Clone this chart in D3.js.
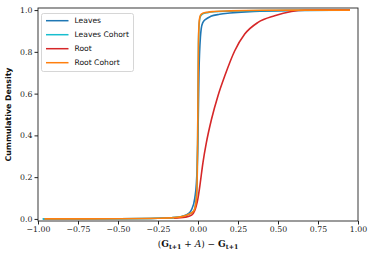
<!DOCTYPE html>
<html>
<head>
<meta charset="utf-8">
<script src="https://cdn.jsdelivr.net/npm/d3@7"></script>
<style>
  body { margin: 0; background: #fff; }
</style>
</head>
<body>
<div id="chart"></div>
<script>
// Datos
const seriesNames = ["Leaves", "Leaves Cohort", "Root", "Root Cohort"];
const seriesColors = ["#1f77b4", "#17becf", "#d62728", "#ff7f0e"];

const leavesX = [-0.97, -0.5, -0.25, -0.15, -0.1, -0.06, -0.04, -0.02, -0.01, -0.005, 0, 0.003, 0.006, 0.01, 0.015, 0.02, 0.03, 0.05, 0.08, 0.135, 0.2, 0.35, 0.6, 0.95];
const leavesY = [0, 0.001, 0.003, 0.006, 0.012, 0.025, 0.045, 0.1, 0.17, 0.25, 0.4, 0.55, 0.7, 0.8, 0.87, 0.91, 0.94, 0.957, 0.97, 0.98, 0.986, 0.994, 0.998, 1.0];

const leavesCohortX = [-0.97, -0.5, -0.25, -0.15, -0.1, -0.05, -0.03, -0.02, -0.01, -0.005, -0.002, 0, 0.003, 0.008, 0.015, 0.03, 0.06, 0.1, 0.2, 0.4, 0.95];
const leavesCohortY = [0, 0.001, 0.003, 0.006, 0.011, 0.025, 0.035, 0.05, 0.1, 0.2, 0.4, 0.6, 0.84, 0.94, 0.97, 0.982, 0.988, 0.992, 0.995, 0.998, 1.0];

const rootX = [-0.15, -0.08, -0.04, -0.02, -0.01, 0, 0.011, 0.031, 0.052, 0.084, 0.125, 0.167, 0.229, 0.292, 0.375, 0.479, 0.584, 0.667, 0.8, 0.95];
const rootY = [0.003, 0.008, 0.018, 0.04, 0.065, 0.1, 0.155, 0.27, 0.364, 0.476, 0.59, 0.684, 0.804, 0.885, 0.941, 0.973, 0.993, 0.999, 1.0, 1.0];

const rootCohortX = [-0.96, -0.5, -0.25, -0.15, -0.1, -0.05, -0.03, -0.02, -0.01, -0.005, -0.002, 0, 0.003, 0.008, 0.015, 0.03, 0.06, 0.1, 0.2, 0.4, 0.95];
const rootCohortY = [0, 0.001, 0.003, 0.006, 0.011, 0.025, 0.035, 0.05, 0.1, 0.2, 0.4, 0.6, 0.85, 0.95, 0.975, 0.985, 0.99, 0.993, 0.996, 0.999, 1.0];

const xTicks = [-1.0, -0.75, -0.5, -0.25, 0, 0.25, 0.5, 0.75, 1.0];
const yTicks = [0, 0.2, 0.4, 0.6, 0.8, 1.0];

const seriesData = [
    d3.zip(leavesX, leavesY),
    d3.zip(leavesCohortX, leavesCohortY),
    d3.zip(rootX, rootY),
    d3.zip(rootCohortX, rootCohortY)
];

// Dimensiones
const width = 374;
const height = 256;
const marginLeft = 38;
const marginRight = 16;
const marginTop = 8;
const marginBottom = 35;

const x = d3.scaleLinear()
    .domain([-1, 1])
    .range([marginLeft, width - marginRight]);

const y = d3.scaleLinear()
    .domain([-0.01, 1.01])
    .range([height - marginBottom, marginTop]);

const svg = d3.select("#chart")
    .append("svg")
    .attr("width", width)
    .attr("height", height)
    .attr("viewBox", [0, 0, width, height]);

const serif = "'DejaVu Serif', 'Liberation Serif', serif";
const sans = "'DejaVu Sans', sans-serif";

// Líneas
const line = d3.line()
    .x(d => x(d[0]))
    .y(d => y(d[1]))
    .curve(d3.curveMonotoneX);

svg.append("g")
    .selectAll("path")
    .data(seriesData)
    .join("path")
    .attr("fill", "none")
    .attr("stroke", (d, i) => seriesColors[i])
    .attr("stroke-width", 1.6)
    .attr("stroke-linejoin", "round")
    .attr("d", line);

// Marco
svg.append("rect")
    .attr("x", marginLeft)
    .attr("y", marginTop)
    .attr("width", width - marginLeft - marginRight)
    .attr("height", height - marginTop - marginBottom)
    .attr("fill", "none")
    .attr("stroke", "#222")
    .attr("stroke-width", 0.9);

// Eje X
const fmt = d => (d < 0 ? "\u2212" : "") + Math.abs(d).toFixed(2);
svg.append("g")
    .attr("transform", `translate(0,${height - marginBottom})`)
    .call(d3.axisBottom(x).tickValues(xTicks).tickFormat(fmt).tickSize(3.5).tickPadding(2))
    .call(g => g.select(".domain").remove())
    .call(g => g.selectAll("text").attr("font-family", serif).attr("font-size", 7.8).attr("fill", "#222"))
    .call(g => g.selectAll("line").attr("stroke", "#222"));

// Eje Y
svg.append("g")
    .attr("transform", `translate(${marginLeft},0)`)
    .call(d3.axisLeft(y).tickValues(yTicks).tickFormat(d => d.toFixed(1)).tickSize(3.5).tickPadding(2))
    .call(g => g.select(".domain").remove())
    .call(g => g.selectAll("text").attr("font-family", serif).attr("font-size", 7.8).attr("fill", "#222"))
    .call(g => g.selectAll("line").attr("stroke", "#222"));

// Etiqueta Y
svg.append("text")
    .attr("transform", `translate(11,${(marginTop + height - marginBottom) / 2}) rotate(-90)`)
    .attr("text-anchor", "middle")
    .attr("font-family", sans)
    .attr("font-weight", "bold")
    .attr("font-size", 7.8)
    .attr("fill", "#111")
    .text("Cummulative Density");

// Etiqueta X
const xl = svg.append("text")
    .attr("x", x(0))
    .attr("y", height - 9)
    .attr("text-anchor", "middle")
    .attr("font-family", serif)
    .attr("font-size", 9)
    .attr("fill", "#111");
xl.append("tspan").text("(");
xl.append("tspan").attr("font-weight", "bold").text("G");
xl.append("tspan").attr("font-weight", "bold").attr("font-size", 6.3).attr("dy", 2).text("t+1");
xl.append("tspan").attr("dy", -2).text(" + ");
xl.append("tspan").attr("font-style", "italic").text("A");
xl.append("tspan").text(") \u2212 ");
xl.append("tspan").attr("font-weight", "bold").text("G");
xl.append("tspan").attr("font-weight", "bold").attr("font-size", 6.3).attr("dy", 2).text("t+1");

// Leyenda
const legend = svg.append("g").attr("transform", "translate(41.5,13.5)");
legend.append("rect")
    .attr("width", 92)
    .attr("height", 58)
    .attr("rx", 2)
    .attr("fill", "#fff")
    .attr("fill-opacity", 0.8)
    .attr("stroke", "#ccc")
    .attr("stroke-width", 0.8);

const items = legend.selectAll("g.item")
    .data(seriesNames)
    .join("g")
    .attr("class", "item")
    .attr("transform", (d, i) => `translate(0,${7.2 + i * 14})`);

items.append("line")
    .attr("x1", 4.5)
    .attr("x2", 27)
    .attr("stroke", (d, i) => seriesColors[i])
    .attr("stroke-width", 1.5);

items.append("text")
    .attr("x", 33)
    .attr("dy", "0.35em")
    .attr("font-family", sans)
    .attr("font-size", 7.6)
    .attr("fill", "#111")
    .text(d => d);
</script>
</body>
</html>
